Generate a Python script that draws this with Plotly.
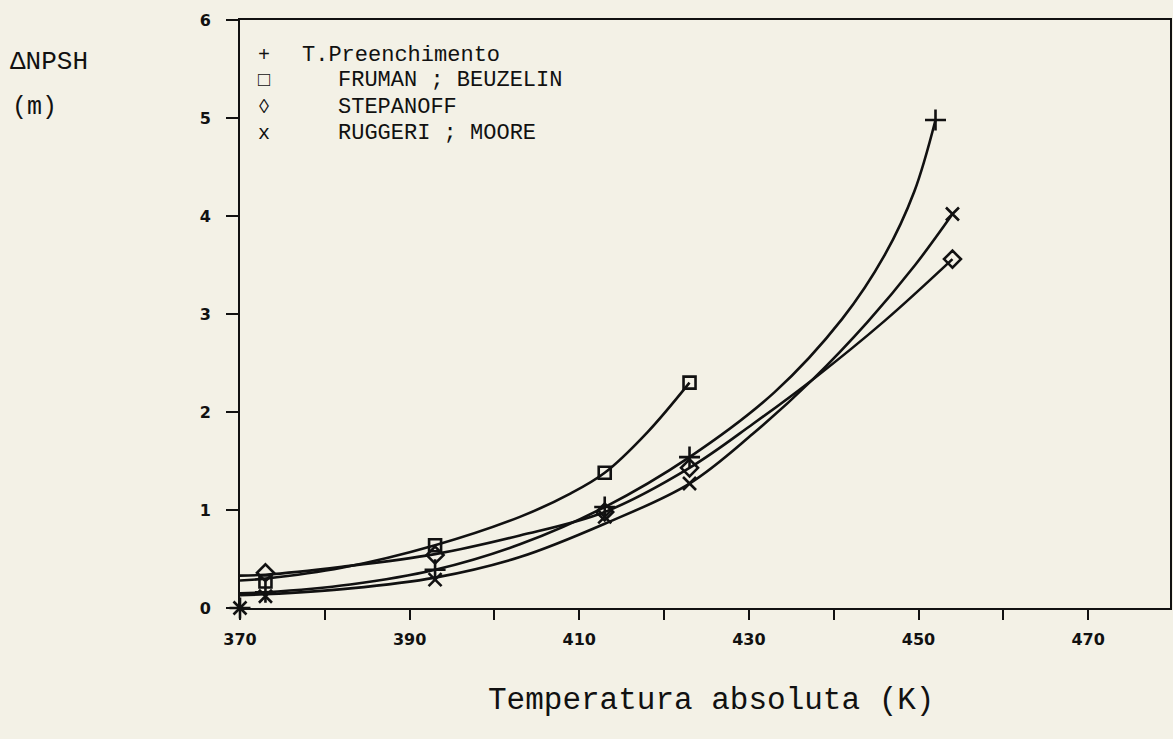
import plotly.graph_objects as go

# ---- data ----
# measured points (markers)
t_tp = [370, 373, 393, 413, 423, 452]
v_tp = [0.0, 0.16, 0.39, 1.03, 1.54, 4.98]

t_fb = [373, 393, 413, 423]
v_fb = [0.27, 0.64, 1.38, 2.30]

t_st = [373, 393, 413, 423, 454]
v_st = [0.36, 0.54, 0.98, 1.43, 3.56]

t_rm = [370, 373, 393, 413, 423, 454]
v_rm = [0.0, 0.12, 0.29, 0.93, 1.27, 4.02]

# fitted curves (nodes)
ct_tp = [370, 373, 383, 393, 403, 413, 423, 433, 441, 446, 449.5, 452]
cv_tp = [0.15, 0.16, 0.24, 0.39, 0.65, 1.03, 1.54, 2.20, 2.95, 3.60, 4.25, 4.98]

ct_fb = [370, 373, 382, 393, 403, 409, 413, 418, 423]
cv_fb = [0.28, 0.30, 0.41, 0.64, 0.93, 1.17, 1.38, 1.79, 2.30]

ct_st = [370, 373, 382, 393, 403, 413, 423, 430.5, 437.5, 446, 454]
cv_st = [0.33, 0.34, 0.42, 0.55, 0.74, 0.98, 1.43, 1.88, 2.33, 2.93, 3.56]

ct_rm = [370, 373, 383, 393, 403, 413, 423, 430.5, 437.5, 444, 449.6, 454]
cv_rm = [0.13, 0.14, 0.20, 0.31, 0.52, 0.86, 1.27, 1.78, 2.33, 2.92, 3.50, 4.02]

names = ["T.Preenchimento", "FRUMAN ; BEUZELIN", "STEPANOFF", "RUGGERI ; MOORE"]
legend_keys = ["+", "\u25a1", "\u25ca", "x"]

x_ticks = [370, 390, 410, 430, 450, 470]
x_minor = [380, 400, 420, 440, 460]
y_ticks = [0, 1, 2, 3, 4, 5, 6]

INK = "#111111"
PAPER = "#f3f1e6"
MONO = "Liberation Mono, DejaVu Sans Mono, monospace"

W, H = 1173, 739
L, R, T, B = 240, 1, 20, 131
PW, PH = W - L - R, H - T - B


def ax_x(xp):
    return (xp - L) / PW


def ax_y(yp):
    return 1 - (yp - T) / PH


fig = go.Figure()

curves = [(ct_tp, cv_tp), (ct_fb, cv_fb), (ct_st, cv_st), (ct_rm, cv_rm)]
for cx, cy in curves:
    fig.add_trace(go.Scatter(x=cx, y=cy, mode="lines",
                             line=dict(color=INK, width=2.6, shape="spline", smoothing=1.0),
                             showlegend=False, hoverinfo="skip"))

marks = [
    (t_tp, v_tp, "cross-thin-open", 15),
    (t_fb, v_fb, "square-open", 12),
    (t_st, v_st, "diamond-open", 13),
    (t_rm, v_rm, "x-thin-open", 13),
]
for (mx, my, sym, sz), nm in zip(marks, names):
    fig.add_trace(go.Scatter(x=mx, y=my, mode="markers", name=nm,
                             marker=dict(symbol=sym, size=sz, color=INK,
                                         line=dict(color=INK, width=2.6)),
                             showlegend=False, cliponaxis=False))

# legend typed as text, as in the original
leg_rows = [55, 81, 107, 133]
text_x = [300, 336, 336, 336]
for key, nm, yy, tx in zip(legend_keys, names, leg_rows, text_x):
    fig.add_annotation(x=ax_x(264), y=ax_y(yy), xref="paper", yref="paper",
                       text=key, showarrow=False, xanchor="center", yanchor="middle",
                       font=dict(family=MONO, size=20, color=INK))
    fig.add_annotation(x=ax_x(tx), y=ax_y(yy), xref="paper", yref="paper",
                       text=nm, showarrow=False, xanchor="left", yanchor="middle",
                       font=dict(family=MONO, size=22, color=INK))

fig.add_annotation(x=ax_x(8), y=ax_y(62), xref="paper", yref="paper",
                   text="\u0394NPSH", showarrow=False, xanchor="left", yanchor="middle",
                   font=dict(family=MONO, size=26, color=INK))
fig.add_annotation(x=ax_x(10), y=ax_y(107), xref="paper", yref="paper",
                   text="(m)", showarrow=False, xanchor="left", yanchor="middle",
                   font=dict(family=MONO, size=25, color=INK))
fig.add_annotation(x=ax_x(712), y=ax_y(700), xref="paper", yref="paper",
                   text="Temperatura absoluta (K)", showarrow=False,
                   xanchor="center", yanchor="middle",
                   font=dict(family=MONO, size=31, color=INK))

tickfont = dict(family="DejaVu Sans", size=16, color=INK, weight="bold")

fig.update_xaxes(range=[370, 370 + PW / 8.5], tickvals=x_ticks,
                 ticktext=[str(v) for v in x_ticks],
                 ticks="outside", ticklen=10, tickwidth=2, tickcolor=INK,
                 minor=dict(tickvals=x_minor, ticks="outside",
                            ticklen=10, tickwidth=2, tickcolor=INK),
                 showline=True, linecolor=INK, linewidth=2, mirror=True,
                 showgrid=False, zeroline=False, tickfont=tickfont, ticklabelstandoff=6)
fig.update_yaxes(range=[0, 6], tickvals=y_ticks, ticktext=[str(v) for v in y_ticks],
                 ticks="outside", ticklen=12, tickwidth=2, tickcolor=INK,
                 showline=True, linecolor=INK, linewidth=2, mirror=True,
                 showgrid=False, zeroline=False, tickfont=tickfont, ticklabelstandoff=12)

fig.update_layout(width=W, height=H, margin=dict(l=L, r=R, t=T, b=B),
                  paper_bgcolor=PAPER, plot_bgcolor=PAPER, showlegend=False)

fig.write_html("out.html", config={"displayModeBar": False},
               post_script="document.body.style.margin='0px';"
                           "document.body.style.background='" + PAPER + "';"
                           "document.documentElement.style.overflow='hidden';")
